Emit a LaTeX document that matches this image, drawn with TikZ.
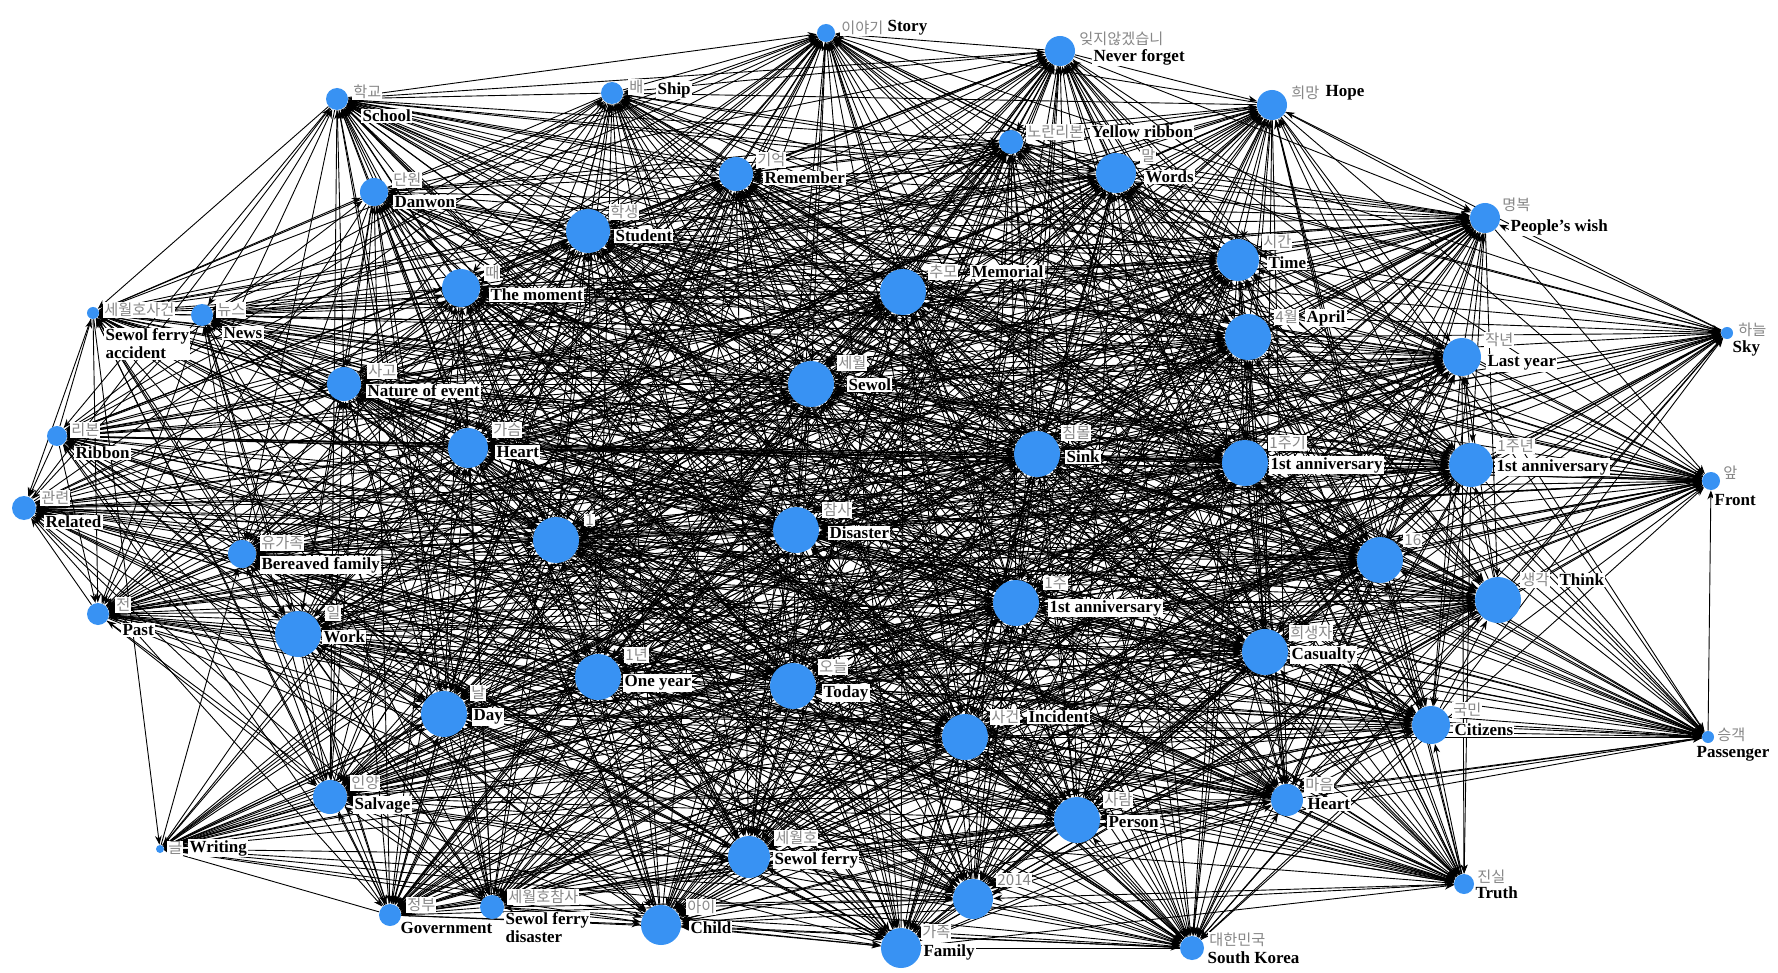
\documentclass[tikz,border=0pt]{standalone}
\usepackage{fontspec}
\setmainfont{Liberation Serif}
\newfontfamily\krfont{Noto Sans CJK KR}
\usetikzlibrary{arrows.meta,backgrounds}
\definecolor{nodeblue}{RGB}{56,146,243}
\definecolor{korgray}{RGB}{135,135,135}
\tikzset{
  vtx/.style={circle, fill=nodeblue, inner sep=0pt, draw=none},
  kor/.style={anchor=west, font=\krfont\fontsize{7.6}{8}\selectfont, text=korgray, fill=white, inner sep=0.5pt},
  eng/.style={anchor=west, font=\fontsize{8.5}{9}\selectfont\bfseries, fill=white, inner sep=0.6pt, align=left},
  link/.style={line width=0.45pt, -{Stealth[length=4.5pt,width=3.4pt]}},
}
\def\RR{{0,9,15,11,11,14,17,12,20,15,22,19,23,21,15,6,6,11,23,19,17,23,10,20,23,23,22,12,9,23,23,14,23,23,23,11,23,23,23,23,23,23,19,17,23,16,6,4,21,20,10,11,12,20,20,12}}
\begin{document}
\begin{tikzpicture}[x=0.5pt,y=-0.5pt]
\useasboundingbox (0,0) rectangle (1778,973);
% vertices
\node[vtx, minimum size=9pt]  (n1)  at (826,33)  {};
\node[vtx, minimum size=15pt] (n2)  at (1060,51) {};
\node[vtx, minimum size=11pt] (n3)  at (337,99)  {};
\node[vtx, minimum size=11pt] (n4)  at (612,93)  {};
\node[vtx, minimum size=14pt] (n5)  at (374,192) {};
\node[vtx, minimum size=17pt] (n6)  at (736,174) {};
\node[vtx, minimum size=12pt] (n7)  at (1011,142) {};
\node[vtx, minimum size=20pt] (n8)  at (1116,173) {};
\node[vtx, minimum size=15pt] (n9)  at (1272,105) {};
\node[vtx, minimum size=22pt] (n10) at (588,231) {};
\node[vtx, minimum size=19pt] (n11) at (461,288) {};
\node[vtx, minimum size=23pt] (n12) at (903,292) {};
\node[vtx, minimum size=21pt] (n13) at (1238,260) {};
\node[vtx, minimum size=15pt] (n14) at (1485,218) {};
\node[vtx, minimum size=6pt]  (n15) at (1727,333) {};
\node[vtx, minimum size=6pt]  (n16) at (93,313)  {};
\node[vtx, minimum size=11pt] (n17) at (202,315) {};
\node[vtx, minimum size=23pt] (n18) at (1248,337) {};
\node[vtx, minimum size=19pt] (n19) at (1462,357) {};
\node[vtx, minimum size=17pt] (n20) at (344,384) {};
\node[vtx, minimum size=23pt] (n21) at (811,384) {};
\node[vtx, minimum size=10pt] (n22) at (57,436)  {};
\node[vtx, minimum size=20pt] (n23) at (468,448) {};
\node[vtx, minimum size=23pt] (n24) at (1037,454) {};
\node[vtx, minimum size=23pt] (n25) at (1245,463) {};
\node[vtx, minimum size=22pt] (n26) at (1471,465) {};
\node[vtx, minimum size=12pt] (n27) at (24,508)  {};
\node[vtx, minimum size=9pt]  (n28) at (1711,481) {};
\node[vtx, minimum size=23pt] (n29) at (556,540) {};
\node[vtx, minimum size=23pt] (n30) at (796,530) {};
\node[vtx, minimum size=14pt] (n31) at (242,554) {};
\node[vtx, minimum size=23pt] (n32) at (1380,560) {};
\node[vtx, minimum size=23pt] (n33) at (1498,600) {};
\node[vtx, minimum size=23pt] (n34) at (1016,603) {};
\node[vtx, minimum size=11pt] (n35) at (98,614)  {};
\node[vtx, minimum size=23pt] (n36) at (298,634) {};
\node[vtx, minimum size=23pt] (n37) at (598,677) {};
\node[vtx, minimum size=23pt] (n38) at (793,686) {};
\node[vtx, minimum size=23pt] (n39) at (1265,652) {};
\node[vtx, minimum size=23pt] (n40) at (444,714) {};
\node[vtx, minimum size=23pt] (n41) at (965,737) {};
\node[vtx, minimum size=19pt] (n42) at (1431,725) {};
\node[vtx, minimum size=17pt] (n43) at (330,797) {};
\node[vtx, minimum size=23pt] (n44) at (1077,820) {};
\node[vtx, minimum size=16pt] (n45) at (1287,800) {};
\node[vtx, minimum size=6pt]  (n46) at (1708,737) {};
\node[vtx, minimum size=4pt]  (n47) at (160,849) {};
\node[vtx, minimum size=21pt] (n48) at (749,857) {};
\node[vtx, minimum size=20pt] (n49) at (973,899) {};
\node[vtx, minimum size=10pt] (n50) at (1464,884) {};
\node[vtx, minimum size=11pt] (n51) at (390,915) {};
\node[vtx, minimum size=12pt] (n52) at (492,907) {};
\node[vtx, minimum size=20pt] (n53) at (661,925) {};
\node[vtx, minimum size=20pt] (n54) at (901,948) {};
\node[vtx, minimum size=12pt] (n55) at (1192,948) {};
% connectors
\begin{pgfonlayer}{background}
\fill[white] (0,0) rectangle (1778,973);
\foreach \i in {1,...,54}{
  \pgfmathtruncatemacro\jstart{\i+1}
  \foreach \j in {\jstart,...,55}{
    \pgfmathtruncatemacro\h{mod(mod(\i*\j,101)*17 + mod(\j*\j,101)*7 + mod(\i*\i,101)*11 + \i*37 + \j*53, 101)}
    \pgfmathtruncatemacro\p{min(100, 28 + 1.9*(\RR[\i] + \RR[\j]))}
    \ifnum\h<\p
      \pgfmathtruncatemacro\d{mod(\i*7+\j*3+mod(\i*\j,13),2)}
      \ifnum\d=0
        \draw[link] (n\i) -- (n\j);
      \else
        \draw[link] (n\j) -- (n\i);
      \fi
    \fi
  }
}
\end{pgfonlayer}
% labels
\node[kor] (k1)  at (840,28)  {이야기};      \node[eng] (e1)  at (886,28)  {Story};
\node[kor] (k2)  at (1078,39) {잊지않겠습니}; \node[eng] (e2)  at (1092,57) {Never forget};
\node[kor] (k3)  at (352,92)  {학교};        \node[eng] (e3)  at (361,116) {School};
\node[kor] (k4)  at (628,87)  {배};          \node[eng] (e4)  at (656,90)  {Ship};
\node[kor] (k5)  at (392,180) {단원};        \node[eng] (e5)  at (393,202) {Danwon};
\node[kor] (k6)  at (756,160) {기억};        \node[eng] (e6)  at (763,178) {Remember};
\node[kor] (k7)  at (1026,132) {노란리본};   \node[eng] (e7)  at (1090,132) {Yellow ribbon};
\node[kor] (k8)  at (1140,156) {말};         \node[eng] (e8)  at (1144,177) {Words};
\node[kor] (k9)  at (1290,93) {희망};        \node[eng] (e9)  at (1324,93) {Hope};
\node[kor] (k10) at (609,212) {학생};        \node[eng] (e10) at (614,236) {Student};
\node[kor] (k11) at (484,273) {때};          \node[eng] (e11) at (489,295) {The moment};
\node[kor] (k12) at (928,272) {추모};        \node[eng] (e12) at (970,272) {Memorial};
\node[kor] (k13) at (1262,242) {시간};       \node[eng] (e13) at (1267,263) {Time};
\node[kor] (k14) at (1501,205) {명복};       \node[eng] (e14) at (1509,227) {People's wish};
\node[kor] (k15) at (1737,330) {하늘};       \node[eng] (e15) at (1731,348) {Sky};
\node[kor] (k16) at (103,310) {세월호사건};   \node[eng] (e16) at (104,344) {Sewol ferry\\accident};
\node[kor] (k17) at (216,310) {뉴스};        \node[eng] (e17) at (222,333) {News};
\node[kor] (k18) at (1274,317) {4월};        \node[eng] (e18) at (1305,318) {April};
\node[kor] (k19) at (1484,340) {작년};       \node[eng] (e19) at (1486,363) {Last year};
\node[kor] (k20) at (367,371) {사고};        \node[eng] (e20) at (366,391) {Nature of event};
\node[kor] (k21) at (837,363) {세월};        \node[eng] (e21) at (847,385) {Sewol};
\node[kor] (k22) at (70,430)  {리본};        \node[eng] (e22) at (74,453)  {Ribbon};
\node[kor] (k23) at (492,430) {가슴};        \node[eng] (e23) at (495,452) {Heart};
\node[kor] (k24) at (1061,433) {침몰};       \node[eng] (e24) at (1065,457) {Sink};
\node[kor] (k25) at (1268,443) {1주기};      \node[eng] (e25) at (1269,465) {1st anniversary};
\node[kor] (k26) at (1496,446) {1주년};      \node[eng] (e26) at (1495,467) {1st anniversary};
\node[kor] (k27) at (40,498)  {관련};        \node[eng] (e27) at (44,522)  {Related};
\node[kor] (k28) at (1722,473) {앞};         \node[eng] (e28) at (1713,500) {Front};
\node[kor] (k29) at (584,520) {1};
\node[kor] (k30) at (822,510) {참사};        \node[eng] (e30) at (828,533) {Disaster};
\node[kor] (k31) at (260,543) {유가족};      \node[eng] (e31) at (260,565) {Bereaved family};
\node[kor] (k32) at (1403,540) {16};
\node[kor] (k33) at (1520,580) {생각};       \node[eng] (e33) at (1558,580) {Think};
\node[kor] (k34) at (1043,583) {1주};        \node[eng] (e34) at (1048,608) {1st anniversary};
\node[kor] (k35) at (115,605) {전};          \node[eng] (e35) at (121,630) {Past};
\node[kor] (k36) at (325,613) {일};          \node[eng] (e36) at (322,637) {Work};
\node[kor] (k37) at (624,655) {1년};         \node[eng] (e37) at (623,683) {One year};
\node[kor] (k38) at (818,667) {오늘};        \node[eng] (e38) at (822,693) {Today};
\node[kor] (k39) at (1289,633) {희생자};     \node[eng] (e39) at (1290,655) {Casualty};
\node[kor] (k40) at (470,693) {날};          \node[eng] (e40) at (472,717) {Day};
\node[kor] (k41) at (990,717) {사건};        \node[eng] (e41) at (1027,717) {Incident};
\node[kor] (k42) at (1452,710) {국민};       \node[eng] (e42) at (1453,730) {Citizens};
\node[kor] (k43) at (350,783) {인양};        \node[eng] (e43) at (353,805) {Salvage};
\node[kor] (k44) at (1103,800) {사람};       \node[eng] (e44) at (1107,822) {Person};
\node[kor] (k45) at (1304,785) {마음};       \node[eng] (e45) at (1306,804) {Heart};
\node[kor] (k46) at (1716,735) {승객};       \node[eng] (e46) at (1695,754) {Passenger};
\node[kor] (k47) at (167,848) {글};          \node[eng] (e47) at (188,848) {Writing};
\node[kor] (k48) at (774,838) {세월호};      \node[eng] (e48) at (773,860) {Sewol ferry};
\node[kor] (k49) at (996,880) {2014};
\node[kor] (k50) at (1476,877) {진실};       \node[eng] (e50) at (1474,893) {Truth};
\node[kor] (k51) at (406,905) {정부};        \node[eng] (e51) at (399,928) {Government};
\node[kor] (k52) at (507,897) {세월호참사};   \node[eng] (e52) at (504,928) {Sewol ferry\\disaster};
\node[kor] (k53) at (686,907) {아이};        \node[eng] (e53) at (689,928) {Child};
\node[kor] (k54) at (921,932) {가족};        \node[eng] (e54) at (922,952) {Family};
\node[kor] (k55) at (1208,940) {대한민국};   \node[eng] (e55) at (1206,958) {South Korea};
\end{tikzpicture}
\end{document}
